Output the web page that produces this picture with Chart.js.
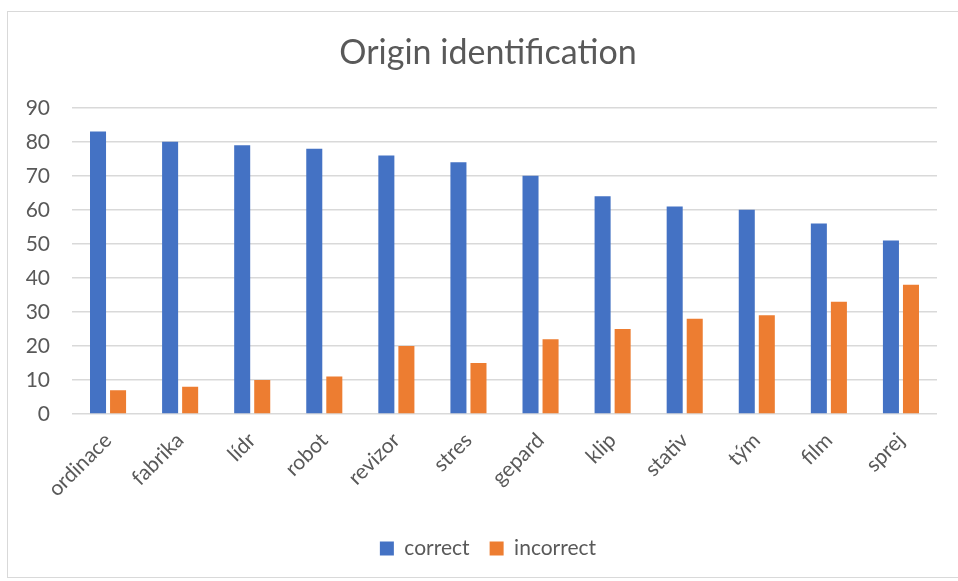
<!DOCTYPE html>
<html>
<head>
<meta charset="utf-8">
<title>Origin identification</title>
<script src="https://cdn.jsdelivr.net/npm/chart.js@4.4.0/dist/chart.umd.min.js"></script>
<style>
  html, body { margin: 0; padding: 0; background: #fff; overflow: hidden; }
  /* the Excel frame runs past the right edge of the picture, so the canvas does too */
  #wrap { position: relative; width: 978px; height: 581px; }
</style>
</head>
<body>
<div id="wrap"><canvas id="chart"></canvas></div>
<script>
// values
const categories = ['ordinace', 'fabrika', 'lídr', 'robot', 'revizor', 'stres', 'gepard', 'klip', 'stativ', 'tým', 'film', 'sprej'];
const correct = [83, 80, 79, 78, 76, 74, 70, 64, 61, 60, 56, 51];
const incorrect = [7, 8, 10, 11, 20, 15, 22, 25, 28, 29, 33, 38];
const yTicks = [0, 10, 20, 30, 40, 50, 60, 70, 80, 90];

const FONT = 'Lato, "Open Sans", sans-serif';
const TEXT = '#595959';
const GRID = '#d9d9d9';

// outer frame like the Excel chart area
const frame = {
  id: 'frame',
  beforeDraw(chart) {
    const ctx = chart.ctx;
    ctx.save();
    ctx.fillStyle = '#fff';
    ctx.fillRect(0, 0, chart.width, chart.height);
    ctx.strokeStyle = GRID;
    ctx.lineWidth = 1;
    ctx.strokeRect(7.5, 11.5, 962, 566);
    ctx.restore();
  }
};

new Chart(document.getElementById('chart'), {
  type: 'bar',
  data: {
    labels: categories,
    datasets: [
      { label: 'correct', data: correct, backgroundColor: '#4472c4' },
      { label: 'incorrect', data: incorrect, backgroundColor: '#ed7d31' }
    ]
  },
  options: {
    responsive: true,
    maintainAspectRatio: false,
    animation: false,
    categoryPercentage: 0.556,
    barPercentage: 0.8,
    layout: { padding: { left: 0, right: 2, top: 0, bottom: 12 } },
    plugins: {
      title: {
        display: true,
        text: 'Origin identification',
        color: TEXT,
        font: { family: FONT, size: 34, weight: 'normal' },
        padding: { top: 33, bottom: 34 }
      },
      legend: {
        position: 'bottom',
        labels: {
          color: TEXT,
          font: { family: FONT, size: 21 },
          boxWidth: 14,
          boxHeight: 14,
          padding: 20
        }
      },
      tooltip: { enabled: false }
    },
    scales: {
      x: {
        grid: { display: false },
        border: { display: false },
        ticks: {
          color: TEXT,
          font: { family: FONT, size: 21 },
          maxRotation: 45,
          minRotation: 45,
          padding: 6
        },
        afterFit(scale) { scale.height = 104; }
      },
      y: {
        min: 0,
        max: 90,
        afterBuildTicks(scale) { scale.ticks = yTicks.map(v => ({ value: v })); },
        grid: { color: GRID, lineWidth: 1.5, drawTicks: false },
        border: { display: false },
        ticks: {
          color: TEXT,
          font: { family: FONT, size: 21 },
          padding: 22
        },
        afterFit(scale) { scale.width = 72; }
      },
      // empty right-hand strip so the title and legend centre on the frame
      yRight: {
        position: 'right',
        grid: { display: false },
        border: { display: false },
        ticks: { display: false },
        afterFit(scale) { scale.width = 39; }
      }
    }
  },
  plugins: [frame]
});
</script>
</body>
</html>
